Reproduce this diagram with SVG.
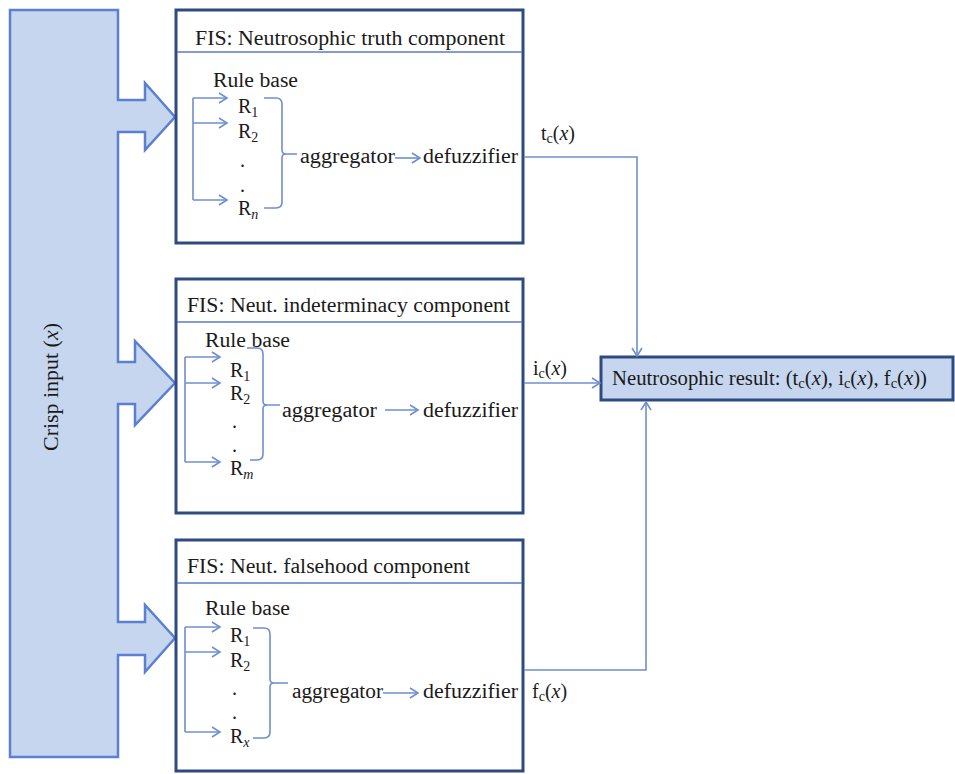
<svg xmlns="http://www.w3.org/2000/svg" width="955" height="774" viewBox="0 0 955 774">
<style>
text{font-family:"Liberation Serif","Times New Roman",serif;font-size:20px;fill:#1a1a1a}
.sub{font-size:14px}
.it{font-style:italic}
.box{fill:#ffffff;stroke:#2e4a7e;stroke-width:3}
.sep{stroke:#5b7bbf;stroke-width:1.5}
.ln{fill:none;stroke:#6f8fd0;stroke-width:1.6}
.conn{fill:none;stroke:#6f8fd0;stroke-width:1.6}
</style>
<defs>
<marker id="ah" markerWidth="12" markerHeight="12" refX="10" refY="6" orient="auto" markerUnits="userSpaceOnUse">
<path d="M2,1 L10,6 L2,11" fill="none" stroke="#6f8fd0" stroke-width="1.6"/>
</marker>
</defs>
<rect width="955" height="774" fill="#ffffff"/>

<g id="crisp-input">
<path d="M10,10 H118 V100 H145 V83 L175,117 L145,150 V132 H118 V362 H135 V341 L175,383 L135,425 V404 H118 V622 H145 V605 L175,638 L145,672 V655 H118 V757 H10 Z" fill="#c6d6ef" stroke="#5a7fd3" stroke-width="2.5" stroke-linejoin="miter"/>
<text transform="translate(58,387) rotate(-90)" text-anchor="middle" fill="#333333" textLength="128" lengthAdjust="spacingAndGlyphs">Crisp input (<tspan class="it">x</tspan>)</text>
</g>

<g id="fis-truth">
<rect class="box" x="176" y="10" width="347" height="233"/>
<line class="sep" x1="177" y1="52" x2="522" y2="52"/>
<text x="195" y="45" textLength="310" lengthAdjust="spacingAndGlyphs">FIS: Neutrosophic truth component</text>
<text x="213" y="87" textLength="85" lengthAdjust="spacingAndGlyphs">Rule base</text>
<path class="ln" d="M193,98 V200"/>
<path class="ln" d="M193,98 H227" marker-end="url(#ah)"/>
<path class="ln" d="M193,123 H227" marker-end="url(#ah)"/>
<path class="ln" d="M193,200 H227" marker-end="url(#ah)"/>
<text x="238" y="113">R<tspan class="sub" dy="4">1</tspan></text>
<text x="238" y="138">R<tspan class="sub" dy="4">2</tspan></text>
<text x="240" y="167">.</text>
<text x="240" y="192">.</text>
<text x="238" y="215">R<tspan class="sub it" dy="4">n</tspan></text>
<path class="ln" d="M264,98 H276 Q282,98 282,104 V150 Q282,154 286,154 H297 M286,154 Q282,154 282,158 V202 Q282,208 276,208 H264"/>
<text x="300" y="163" textLength="95" lengthAdjust="spacingAndGlyphs">aggregator</text>
<path class="ln" d="M395,158 H420" marker-end="url(#ah)"/>
<text x="423" y="163" textLength="95" lengthAdjust="spacingAndGlyphs">defuzzifier</text>
</g>

<g id="fis-indeterminacy">
<rect class="box" x="176" y="279" width="347" height="234"/>
<line class="sep" x1="177" y1="322" x2="522" y2="322"/>
<text x="187" y="312" textLength="323" lengthAdjust="spacingAndGlyphs">FIS: Neut. indeterminacy component</text>
<text x="205" y="347" textLength="85" lengthAdjust="spacingAndGlyphs">Rule base</text>
<path class="ln" d="M185,357 V462"/>
<path class="ln" d="M185,357 H220" marker-end="url(#ah)"/>
<path class="ln" d="M185,383 H220" marker-end="url(#ah)"/>
<path class="ln" d="M185,462 H220" marker-end="url(#ah)"/>
<text x="230" y="377">R<tspan class="sub" dy="4">1</tspan></text>
<text x="230" y="400">R<tspan class="sub" dy="4">2</tspan></text>
<text x="232" y="428">.</text>
<text x="232" y="452">.</text>
<text x="230" y="475">R<tspan class="sub it" dy="4">m</tspan></text>
<path class="ln" d="M247,348 H257 Q263,348 263,354 V401 Q263,405 267,405 H280 M267,405 Q263,405 263,409 V454 Q263,460 257,460 H250"/>
<text x="282" y="417" textLength="95" lengthAdjust="spacingAndGlyphs">aggregator</text>
<path class="ln" d="M385,410 H418" marker-end="url(#ah)"/>
<text x="423" y="417" textLength="95" lengthAdjust="spacingAndGlyphs">defuzzifier</text>
</g>

<g id="fis-falsehood">
<rect class="box" x="176" y="540" width="347" height="231"/>
<line class="sep" x1="177" y1="583" x2="522" y2="583"/>
<text x="187" y="573" textLength="283" lengthAdjust="spacingAndGlyphs">FIS: Neut. falsehood component</text>
<text x="205" y="615" textLength="85" lengthAdjust="spacingAndGlyphs">Rule base</text>
<path class="ln" d="M185,627 V732"/>
<path class="ln" d="M185,627 H220" marker-end="url(#ah)"/>
<path class="ln" d="M185,652 H220" marker-end="url(#ah)"/>
<path class="ln" d="M185,732 H220" marker-end="url(#ah)"/>
<text x="230" y="642">R<tspan class="sub" dy="4">1</tspan></text>
<text x="230" y="667">R<tspan class="sub" dy="4">2</tspan></text>
<text x="232" y="695">.</text>
<text x="232" y="719">.</text>
<text x="230" y="743">R<tspan class="sub it" dy="4">x</tspan></text>
<path class="ln" d="M253,628 H264 Q270,628 270,634 V679 Q270,683 274,683 H288 M274,683 Q270,683 270,687 V732 Q270,738 264,738 H253"/>
<text x="292" y="698" textLength="91" lengthAdjust="spacingAndGlyphs">aggregator</text>
<path class="ln" d="M383,693 H418" marker-end="url(#ah)"/>
<text x="423" y="698" textLength="95" lengthAdjust="spacingAndGlyphs">defuzzifier</text>
</g>

<g id="result">
<rect x="601" y="357" width="352" height="43" fill="#c6d6ef" stroke="#2e4a7e" stroke-width="3"/>
<text x="612" y="385" textLength="315" lengthAdjust="spacingAndGlyphs">Neutrosophic result: (t<tspan class="sub" dy="3">c</tspan><tspan dy="-3">(</tspan><tspan class="it">x</tspan>), i<tspan class="sub" dy="3">c</tspan><tspan dy="-3">(</tspan><tspan class="it">x</tspan>), f<tspan class="sub" dy="3">c</tspan><tspan dy="-3">(</tspan><tspan class="it">x</tspan>))</text>
</g>

<g id="connectors">
<path class="conn" d="M524,157 H637 V356" marker-end="url(#ah)"/>
<path class="conn" d="M524,383 H600" marker-end="url(#ah)"/>
<path class="conn" d="M524,670 H646 V402" marker-end="url(#ah)"/>
<text x="541" y="140">t<tspan class="sub" dy="3">c</tspan><tspan dy="-3">(</tspan><tspan class="it">x</tspan>)</text>
<text x="533" y="375">i<tspan class="sub" dy="3">c</tspan><tspan dy="-3">(</tspan><tspan class="it">x</tspan>)</text>
<text x="532" y="698">f<tspan class="sub" dy="3">c</tspan><tspan dy="-3">(</tspan><tspan class="it">x</tspan>)</text>
</g>
</svg>
